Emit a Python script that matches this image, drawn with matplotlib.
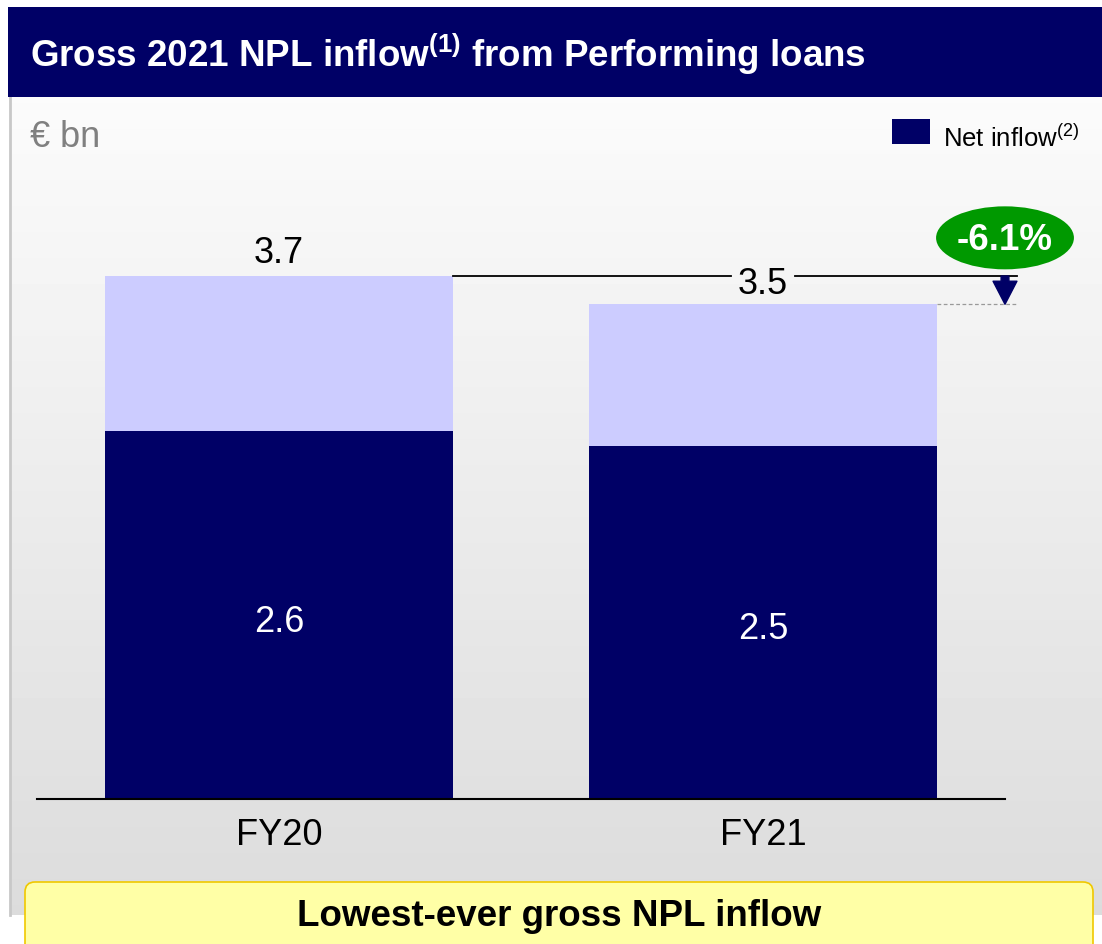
import matplotlib.pyplot as plt
import numpy as np
from matplotlib.patches import Ellipse, FancyBboxPatch, Rectangle

plt.rcParams["font.family"] = ["Liberation Sans", "DejaVu Sans"]
plt.rcParams["mathtext.fontset"] = "custom"
plt.rcParams["mathtext.rm"] = "Liberation Sans"
plt.rcParams["mathtext.bf"] = "Liberation Sans:bold"

categories = ["FY20", "FY21"]
gross_inflow = [3.7, 3.5]
net_inflow = [2.6, 2.5]
change_label = "-6.1%"

NAVY = "#000066"
LILAC = "#ccccff"
GREEN = "#009900"
W, H = 1102, 944

fig = plt.figure(figsize=(W / 100, H / 100), dpi=100)

# page-level canvas in pixel coordinates (y grows downwards)
bg = fig.add_axes([0, 0, 1, 1])
bg.set_xlim(0, W)
bg.set_ylim(H, 0)
bg.axis("off")

top_c, bot_c = 0.985, 0.862
grad = np.linspace(top_c, bot_c, 256)[:, None]
bg.imshow(grad, extent=(10, W, 915, 97), cmap="gray", vmin=0, vmax=1,
          aspect="auto", interpolation="bilinear", zorder=0)
bg.plot([10, 10], [97, 915], color="#c8c8c8", lw=2, zorder=1)
bg.add_patch(Rectangle((8, 7), W - 8, 90, facecolor=NAVY, edgecolor="none", zorder=2))
bg.text(30, 67, r"Gross 2021 NPL inflow$^{\mathbf{(1)}}$ from Performing loans",
        color="white", fontsize=26.5, fontweight="bold", va="baseline", zorder=3)
bg.text(30, 147, "€ bn", color="#808080", fontsize=26, va="baseline", zorder=3)

bg.add_patch(Rectangle((892, 119), 38, 25, facecolor=NAVY, edgecolor="none", zorder=3))
bg.text(943, 147, r"Net inflow$^{(2)}$", color="black", fontsize=18.5,
        va="baseline", zorder=3)

bg.add_patch(FancyBboxPatch((25, 882), 1068, 80, boxstyle="round,pad=0,rounding_size=10",
                            facecolor="#ffffa6", edgecolor="#f0c800", lw=1.2, zorder=3))
bg.text(559, 917, "Lowest-ever gross NPL inflow", color="black", fontsize=26.5,
        fontweight="bold", ha="center", va="center", zorder=4)

# bar chart: 141.35 px per bn, baseline at y=799
px_per_unit = 141.35
ymax = 4.6
ax = fig.add_axes([37 / W, (H - 799) / H, (1005 - 37) / W, ymax * px_per_unit / H])
ax.set_xlim(-0.5, 1.5)
ax.set_ylim(0, ymax)
ax.patch.set_alpha(0)
for side in ("top", "right", "left"):
    ax.spines[side].set_visible(False)
ax.spines["bottom"].set_linewidth(1.5)
ax.set_yticks([])
ax.tick_params(axis="x", length=0, labelsize=26, pad=14)

x = np.arange(len(categories))
width = 0.72
other = [g - n for g, n in zip(gross_inflow, net_inflow)]
ax.bar(x, net_inflow, width, color=NAVY, zorder=2)
ax.bar(x, other, width, bottom=net_inflow, color=LILAC, zorder=2)
ax.set_xticks(x, categories)

for xi, n in zip(x, net_inflow):
    ax.annotate(f"{n:.1f}", (xi, n / 2), xytext=(0, -5), textcoords="offset points",
                color="white", fontsize=26, ha="center", va="center", zorder=3)

ax.annotate(f"{gross_inflow[0]:.1f}", (x[0], gross_inflow[0]), xytext=(0, 16),
            textcoords="offset points", ha="center", va="center", fontsize=26)
ax.annotate(f"{gross_inflow[1]:.1f}", (x[1], gross_inflow[1]), xytext=(0, 14),
            textcoords="offset points", ha="center", va="center", fontsize=26, zorder=4)

# reference line at FY20 level, broken around the FY21 label
line_end = 1.525
gap = 0.066
ax.plot([x[0] + width / 2, x[1] - gap], [gross_inflow[0]] * 2, color="black", lw=1.3,
        zorder=3)
ax.plot([x[1] + gap, line_end], [gross_inflow[0]] * 2, color="black", lw=1.3,
        clip_on=False, zorder=3)
ax.plot([x[1] + width / 2, line_end], [gross_inflow[1]] * 2, color="#999999", lw=0.9,
        ls=(0, (3, 2)), clip_on=False, zorder=3)

arrow_x = 1.5
ax.annotate("", xy=(arrow_x, gross_inflow[1]), xytext=(arrow_x, gross_inflow[0]),
            arrowprops=dict(arrowstyle="simple,head_length=0.83,head_width=0.86,tail_width=0.28",
                            color=NAVY, shrinkA=0, shrinkB=0, mutation_scale=20),
            annotation_clip=False, zorder=4)
ax.add_patch(Ellipse((arrow_x, 3.97), 138 / 484.5, 63 / px_per_unit, facecolor=GREEN,
                     edgecolor="none", clip_on=False, zorder=4))
ax.text(arrow_x, 3.95, change_label, color="white", fontsize=26.5, fontweight="bold",
        ha="center", va="center", zorder=5, clip_on=False)

fig.savefig("out.png", dpi=100)
